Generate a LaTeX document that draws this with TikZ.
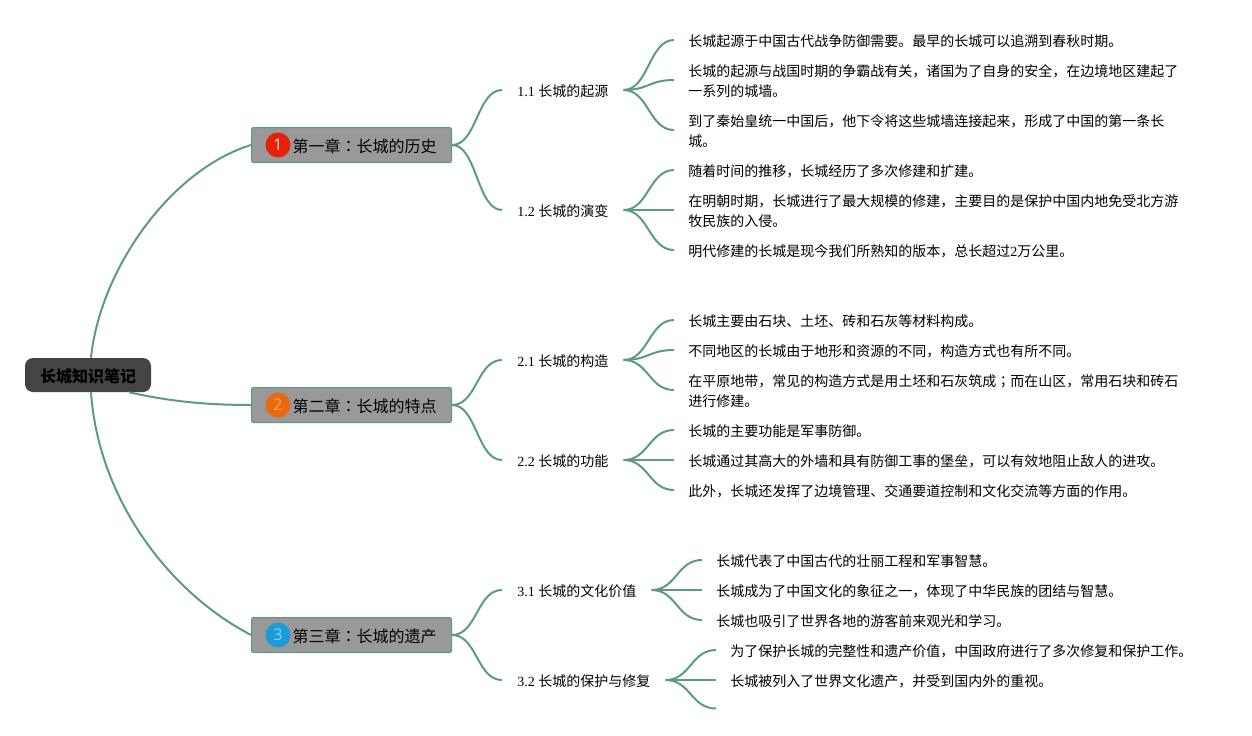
\documentclass[tikz,border=0pt]{standalone}
\usepackage{fontspec}
\setmainfont{Liberation Serif}
\setsansfont{Open Sans}
\newfontfamily\cjk{Noto Sans CJK SC}
\newfontfamily\cjktc{Noto Sans CJK TC}
\usetikzlibrary{calc,positioning}
\definecolor{branchcol}{HTML}{5C9A86}
\definecolor{rootcol}{HTML}{444444}
\definecolor{chapcol}{HTML}{999999}
\definecolor{redcol}{HTML}{E52207}
\definecolor{orangecol}{HTML}{E8690F}
\definecolor{bluecol}{HTML}{1C9BD8}
\def\dx{25}
\newcommand{\zhcolon}{{\cjktc ：}}
\newcommand{\zhsemi}{{\cjktc ；}}
\newcommand{\lowertxt}[1]{\raisebox{-0.75pt}[\height][\depth]{#1}}
\tikzstyle{branch}  = [draw=branchcol, line width=1.5pt]
\tikzstyle{rootbox} = [rectangle, rounded corners=6pt, fill=rootcol, minimum width=94.5pt, minimum height=25.5pt, inner sep=0pt, font=\cjk\fontsize{12}{15}\selectfont\bfseries]
\tikzstyle{chapter} = [rectangle, rounded corners=1.5pt, draw=branchcol, fill=chapcol, line width=0.75pt, anchor=west, minimum height=26.25pt, text width=127.5pt, align=right, inner xsep=11.25pt, font=\cjk\fontsize{12}{15}\selectfont]
\tikzstyle{badge}   = [circle, minimum size=18.75pt, inner sep=0pt, font=\sffamily\fontsize{12}{12}\selectfont]
\tikzstyle{sub}     = [anchor=west, yshift=-0.75pt, inner xsep=11.25pt, inner ysep=1pt, font=\fontsize{10.5}{15}\selectfont]
\tikzstyle{leaf}    = [anchor=west, yshift=-0.75pt, inner xsep=10.5pt, inner ysep=1pt, align=left, font=\cjk\fontsize{10.5}{15}\selectfont]

\begin{document}
\begin{tikzpicture}[x=0.75pt,y=-0.75pt]
		\useasboundingbox (0,0) rectangle (1252,735);
		\node[rootbox] (root) at (88,375) {\lowertxt{长城知识笔记}};
		\node[chapter] (ch1) at (251,145) {\lowertxt{第一章\zhcolon 长城的历史}};
		\node[chapter] (ch2) at (251,405) {\lowertxt{第二章\zhcolon 长城的特点}};
		\node[chapter] (ch3) at (251,635) {\lowertxt{第三章\zhcolon 长城的遗产}};
		\node[badge, fill=redcol, text=red!15] (b1) at ([xshift=20.25pt]ch1.west) {1};
		\node[badge, fill=orangecol, text=orange!70] (b2) at ([xshift=20.25pt]ch2.west) {2};
		\node[badge, fill=bluecol, text=cyan!50] (b3) at ([xshift=20.25pt]ch3.west) {3};
		\foreach \n/\y/\t in {s11/90/1.1 {\cjk 长城的起源},s12/210/1.2 {\cjk 长城的演变},s21/360/2.1 {\cjk 长城的构造},s22/460/2.2 {\cjk 长城的功能},s31/590/3.1 {\cjk 长城的文化价值},s32/680/3.2 {\cjk 长城的保护与修复}}{
				\node[sub] (\n) at (502,\y) {\t};
			}
		\foreach \n/\x/\y/\t in {
				a1/674/40/{长城起源于中国古代战争防御需要。最早的长城可以追溯到春秋时期。},
				a2/674/80/{长城的起源与战国时期的争霸战有关，诸国为了自身的安全，在边境地区建起了\\一系列的城墙。},
				a3/674/130/{到了秦始皇统一中国后，他下令将这些城墙连接起来，形成了中国的第一条长\\城。},
				b1/674/170/{随着时间的推移，长城经历了多次修建和扩建。},
				b2/674/210/{在明朝时期，长城进行了最大规模的修建，主要目的是保护中国内地免受北方游\\牧民族的入侵。},
				b3/674/250/{明代修建的长城是现今我们所熟知的版本，总长超过{\rmfamily 2}万公里。},
				c1/674/320/{长城主要由石块、土坯、砖和石灰等材料构成。},
				c2/674/350/{不同地区的长城由于地形和资源的不同，构造方式也有所不同。},
				c3/674/390/{在平原地带，常见的构造方式是用土坯和石灰筑成\zhsemi 而在山区，常用石块和砖石\\进行修建。},
				d1/674/430/{长城的主要功能是军事防御。},
				d2/674/460/{长城通过其高大的外墙和具有防御工事的堡垒，可以有效地阻止敌人的进攻。},
				d3/674/490/{此外，长城还发挥了边境管理、交通要道控制和文化交流等方面的作用。},
				e1/702/560/{长城代表了中国古代的壮丽工程和军事智慧。},
				e2/702/590/{长城成为了中国文化的象征之一，体现了中华民族的团结与智慧。},
				e3/702/620/{长城也吸引了世界各地的游客前来观光和学习。},
				f1/716/650/{为了保护长城的完整性和遗产价值，中国政府进行了多次修复和保护工作。},
				f2/716/680/{长城被列入了世界文化遗产，并受到国内外的重视。}}{
				\node[leaf] (leaf\n) at (\x,\y) {\t};
			}
		\coordinate (leaff3) at (716,709.5);
		% root to chapters
		\draw[branch] ([xshift=2.25pt]root.north) .. controls (100,270) and (170,170) .. (ch1.west);
		\draw[branch] ([xshift=31pt]root.south) .. controls +(35,8) and +(-50,0) .. (ch2.west);
		\draw[branch] ([xshift=2.25pt]root.south) .. controls (98,495) and (165,590) .. (ch3.west);
		\foreach \a/\b in {ch1/s11,ch1/s12,ch2/s21,ch2/s22,ch3/s31,ch3/s32}{
				\draw[branch] (\a.east) .. controls +(\dx,0) and +(-\dx,0) .. ([yshift=0.75pt]\b.west);
			}
		\foreach \a/\b in {s11/leafa1,s11/leafa2,s11/leafa3,s12/leafb1,s12/leafb2,s12/leafb3,
				s21/leafc1,s21/leafc2,s21/leafc3,s22/leafd1,s22/leafd2,s22/leafd3,
				s31/leafe1,s31/leafe2,s31/leafe3,s32/leaff1,s32/leaff2,s32/leaff3}{
				\draw[branch] ([yshift=0.75pt]\a.east) .. controls +(\dx,0) and +(-\dx,0) .. ([yshift=0.75pt]\b.west);
			}
	\end{tikzpicture}
\end{document}
